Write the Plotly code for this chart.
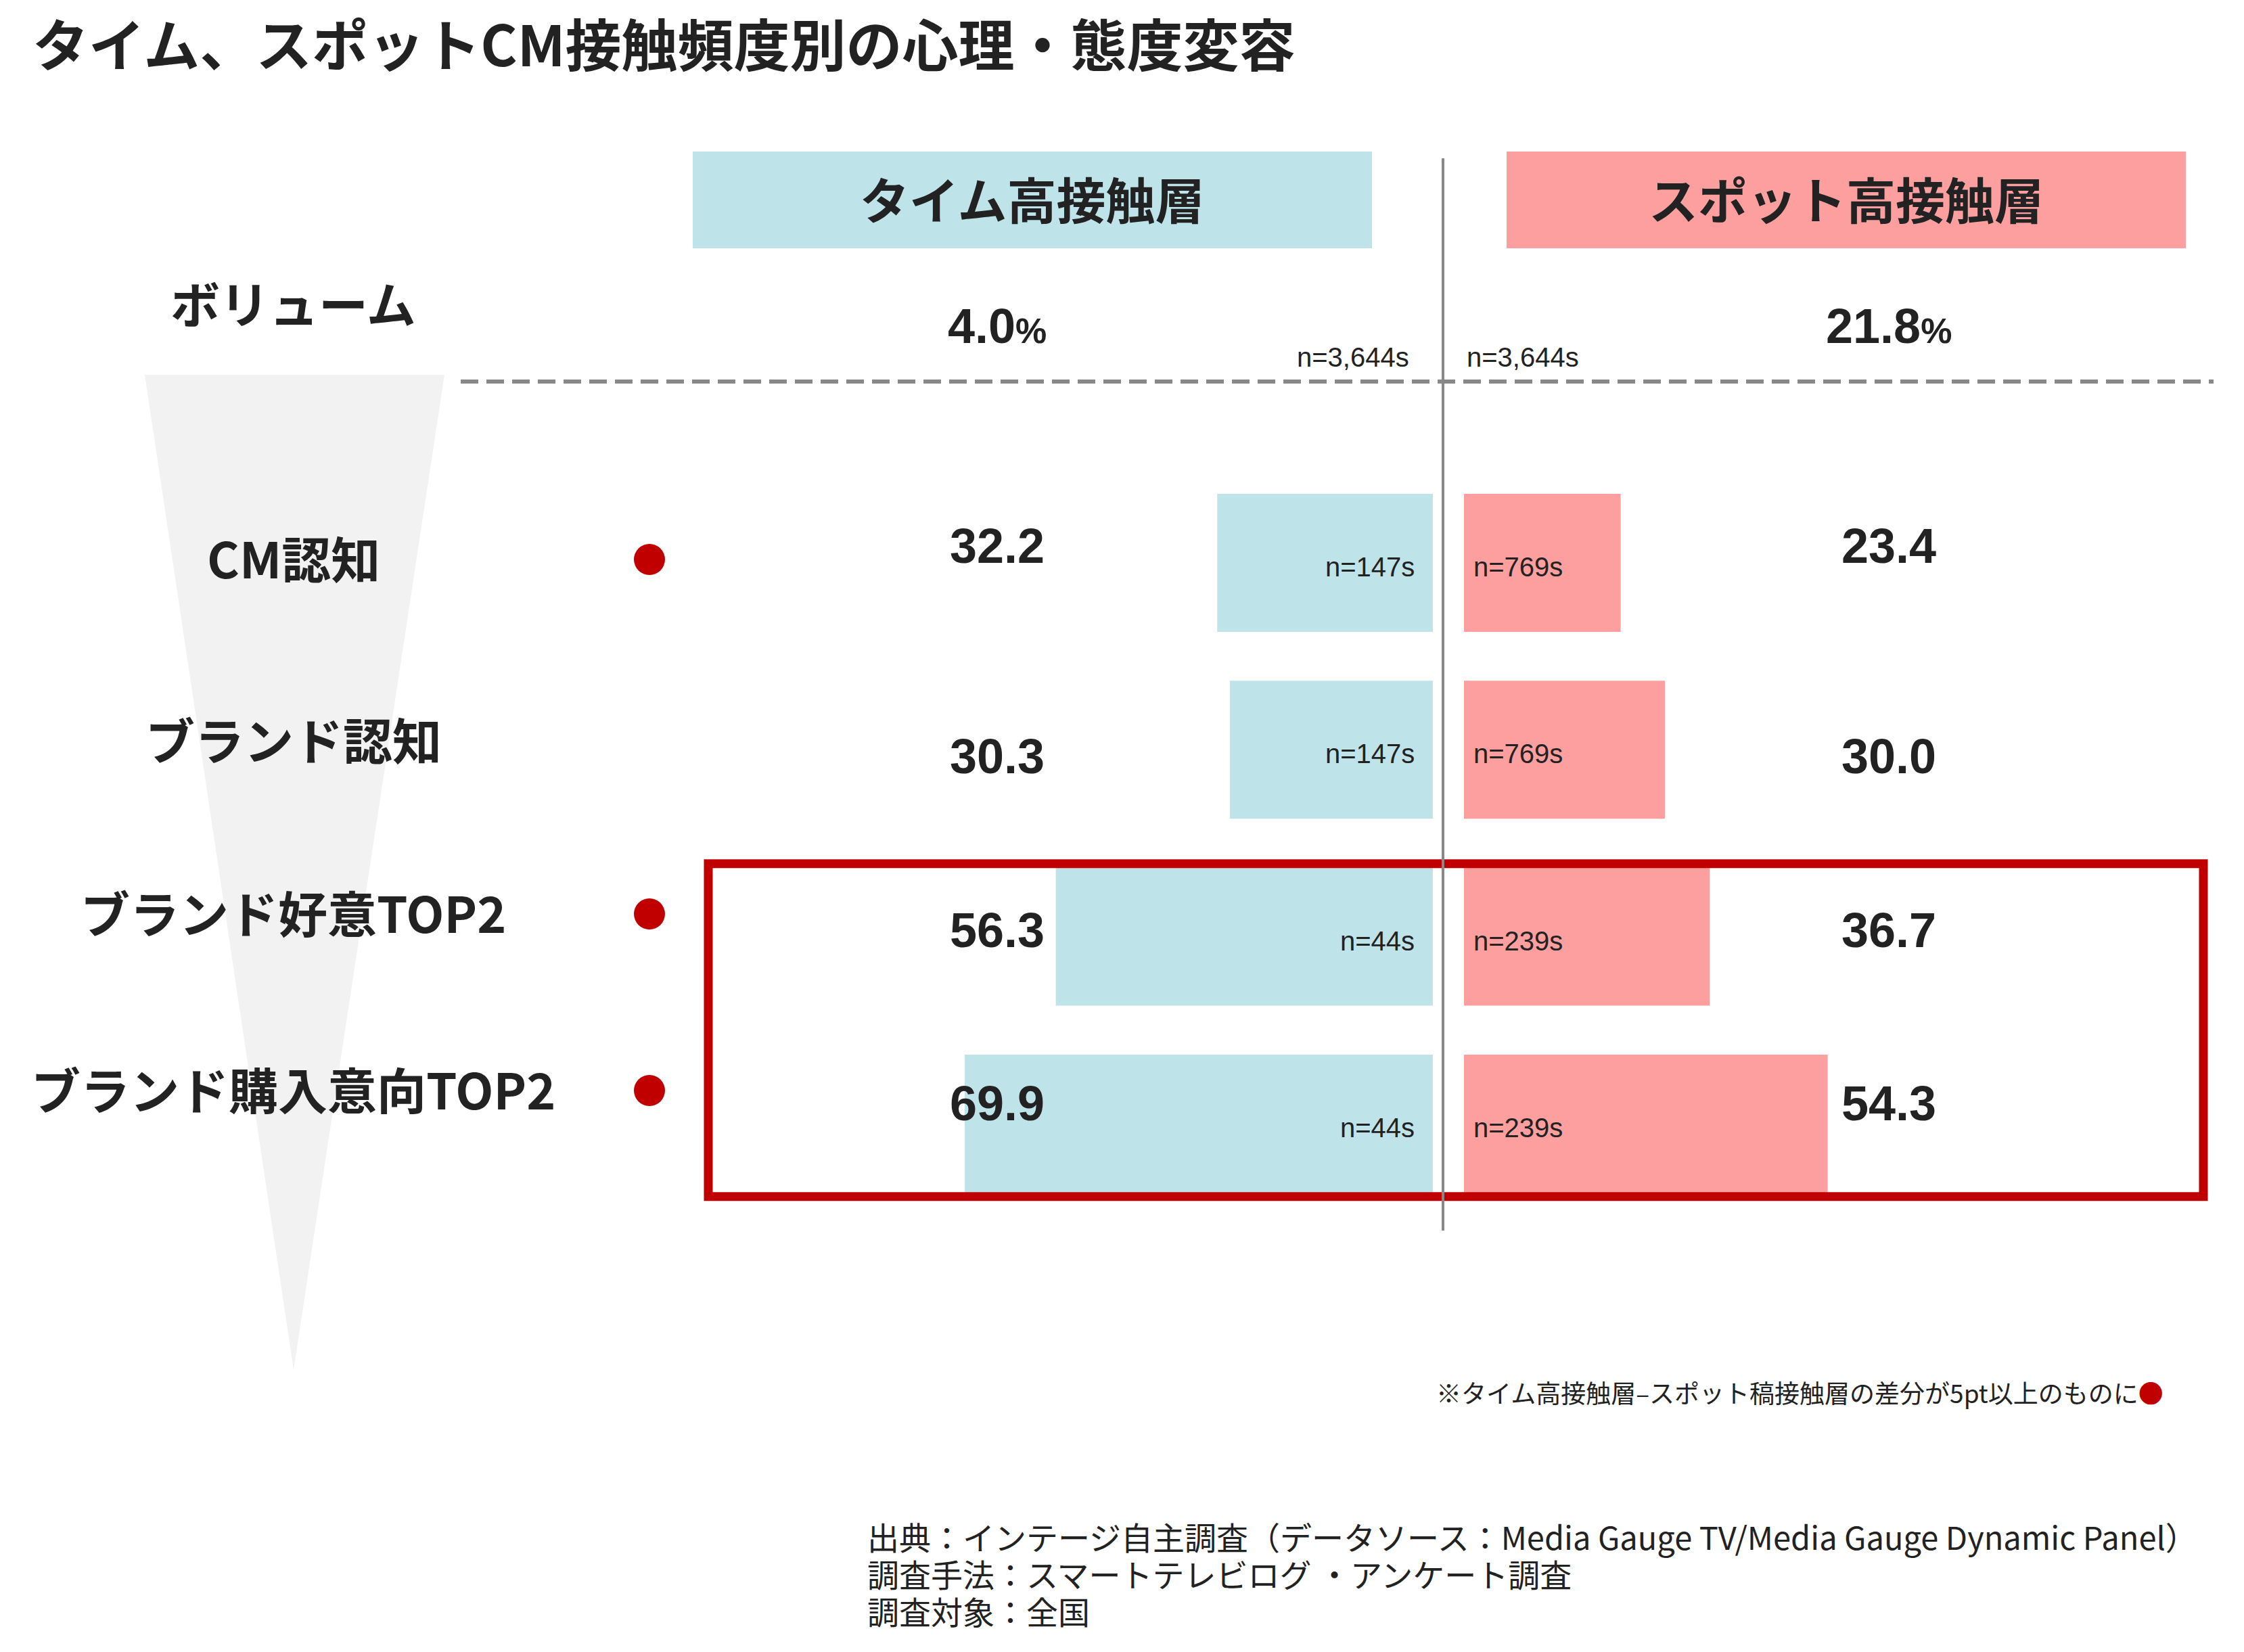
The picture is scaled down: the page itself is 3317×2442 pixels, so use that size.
import plotly.graph_objects as go

# ---------------- data ----------------
categories = ["CM認知", "ブランド認知", "ブランド好意TOP2", "ブランド購入意向TOP2"]
time_values = [32.2, 30.3, 56.3, 69.9]
spot_values = [23.4, 30.0, 36.7, 54.3]
time_n = ["n=147s", "n=147s", "n=44s", "n=44s"]
spot_n = ["n=769s", "n=769s", "n=239s", "n=239s"]
volume_label = "ボリューム"
time_volume = 4.0
spot_volume = 21.8
volume_n = "n=3,644s"
header_time = "タイム高接触層"
header_spot = "スポット高接触層"
title_text = "タイム、スポットCM接触頻度別の心理・態度変容"
note_text = "※タイム高接触層–スポット稿接触層の差分が5pt以上のものに"
footer_lines = [
    "出典：インテージ自主調査（データソース：Media Gauge TV/Media Gauge Dynamic Panel）",
    "調査手法：スマートテレビログ ・アンケート調査",
    "調査対象：全国",
]
DIFF_THRESHOLD = 5.0
highlight_rows = ["ブランド好意TOP2", "ブランド購入意向TOP2"]

# ---------------- layout constants ----------------
W, H = 3317, 2442
PX_PER_UNIT = 9.9
CENTER_X = 2133
ROW0_Y, ROW_STEP = 832, 276.3
BAR_W = 0.738
BLUE = "#bee4ea"
PINK = "#fe9f9f"
RED = "#c00000"
GRAY = "#888888"
TXT = "#222222"
CJK = "Noto Sans CJK JP"
NUM = "Liberation Sans, Arial, Noto Sans CJK JP"

LABEL_X = 434
LABEL_Y = [823, 1091, 1347, 1608]
VALUE_Y = [807, 1118, 1375, 1631]
TIME_VAL_X, SPOT_VAL_X = 1474, 2792
DOT_X, DOT_R = 960, 23


def px(x):
    return x / W


def py(y):
    return 1 - y / H


def yrow(i):
    return ROW0_Y + i * ROW_STEP


fig = go.Figure()

blue_base = -15 / PX_PER_UNIT
pink_base = 31 / PX_PER_UNIT

fig.add_trace(go.Bar(
    y=categories, x=[-v for v in time_values], base=blue_base, orientation="h",
    marker=dict(color=BLUE, line=dict(width=0)), width=BAR_W, hoverinfo="skip",
    showlegend=False,
))
fig.add_trace(go.Bar(
    y=categories, x=spot_values, base=pink_base, orientation="h",
    marker=dict(color=PINK, line=dict(width=0)), width=BAR_W, hoverinfo="skip",
    showlegend=False,
))

shapes = []
ann = []

# funnel
shapes.append(dict(type="path", xref="paper", yref="paper", layer="below",
                   path=f"M {px(214)},{py(554)} L {px(657)},{py(554)} L {px(434)},{py(2025)} Z",
                   fillcolor="#f2f2f2", line=dict(width=0)))
# header boxes
shapes.append(dict(type="rect", xref="paper", yref="paper", layer="below",
                   x0=px(1024), x1=px(2028), y0=py(224), y1=py(367),
                   fillcolor=BLUE, line=dict(width=0)))
shapes.append(dict(type="rect", xref="paper", yref="paper", layer="below",
                   x0=px(2227), x1=px(3231), y0=py(224), y1=py(367),
                   fillcolor=PINK, line=dict(width=0)))
# dashed line
shapes.append(dict(type="line", xref="paper", yref="paper", layer="above",
                   x0=px(681), x1=px(3272), y0=py(564), y1=py(564),
                   line=dict(color=GRAY, width=6, dash="26px,12px")))
# red highlight box around highlighted rows
hi_idx = [categories.index(c) for c in highlight_rows]
top = yrow(min(hi_idx)) - BAR_W * ROW_STEP / 2 - 6
bot = yrow(max(hi_idx)) + BAR_W * ROW_STEP / 2 + 6
shapes.append(dict(type="rect", xref="paper", yref="paper", layer="above",
                   x0=px(1047), x1=px(3257), y0=py(top), y1=py(bot),
                   fillcolor="rgba(0,0,0,0)", line=dict(color=RED, width=13)))
# center line
shapes.append(dict(type="line", xref="paper", yref="paper", layer="above",
                   x0=px(CENTER_X), x1=px(CENTER_X), y0=py(234), y1=py(1819),
                   line=dict(color=GRAY, width=4)))
# red dots where difference >= threshold
for i, (t, s) in enumerate(zip(time_values, spot_values)):
    if t - s >= DIFF_THRESHOLD:
        shapes.append(dict(type="circle", xref="paper", yref="paper", layer="above",
                           x0=px(DOT_X - DOT_R), x1=px(DOT_X + DOT_R),
                           y0=py(LABEL_Y[i] + 4 - DOT_R), y1=py(LABEL_Y[i] + 4 + DOT_R),
                           fillcolor=RED, line=dict(width=0)))

# title
ann.append(dict(text=title_text, x=px(46), y=py(62), xanchor="left", yanchor="middle",
                font=dict(family=CJK, size=83, color=TXT, weight="bold")))
# headers
ann.append(dict(text=header_time, x=px(1526), y=py(292), xanchor="center", yanchor="middle",
                font=dict(family=CJK, size=73, color=TXT, weight="bold")))
ann.append(dict(text=header_spot, x=px(2729), y=py(292), xanchor="center", yanchor="middle",
                font=dict(family=CJK, size=73, color=TXT, weight="bold")))
# volume row
ann.append(dict(text=volume_label, x=px(LABEL_X), y=py(446), xanchor="center", yanchor="middle",
                font=dict(family=CJK, size=73, color=TXT, weight="bold")))
ann.append(dict(text=f"{time_volume:.1f}<span style='font-size:52px'>%</span>",
                x=px(TIME_VAL_X), y=py(482), xanchor="center", yanchor="middle",
                font=dict(family=NUM, size=72, color=TXT, weight="bold")))
ann.append(dict(text=f"{spot_volume:.1f}<span style='font-size:52px'>%</span>",
                x=px(SPOT_VAL_X), y=py(482), xanchor="center", yanchor="middle",
                font=dict(family=NUM, size=72, color=TXT, weight="bold")))
ann.append(dict(text=volume_n, x=px(2085), y=py(528), xanchor="right", yanchor="middle",
                font=dict(family=NUM, size=40, color=TXT)))
ann.append(dict(text=volume_n, x=px(2166), y=py(528), xanchor="left", yanchor="middle",
                font=dict(family=NUM, size=40, color=TXT)))

# rows
for i, cat in enumerate(categories):
    ann.append(dict(text=cat, x=px(LABEL_X), y=py(LABEL_Y[i]), xanchor="center", yanchor="middle",
                    font=dict(family=CJK, size=73, color=TXT, weight="bold")))
    ann.append(dict(text=f"{time_values[i]:.1f}", x=px(TIME_VAL_X), y=py(VALUE_Y[i]),
                    xanchor="center", yanchor="middle",
                    font=dict(family=NUM, size=72, color=TXT, weight="bold")))
    ann.append(dict(text=f"{spot_values[i]:.1f}", x=px(SPOT_VAL_X), y=py(VALUE_Y[i]),
                    xanchor="center", yanchor="middle",
                    font=dict(family=NUM, size=72, color=TXT, weight="bold")))
    ann.append(dict(text=time_n[i], xref="x", yref="y", x=-40 / PX_PER_UNIT, y=cat,
                    yshift=-6, xanchor="right", yanchor="middle",
                    font=dict(family=NUM, size=40, color=TXT)))
    ann.append(dict(text=spot_n[i], xref="x", yref="y", x=43 / PX_PER_UNIT, y=cat,
                    yshift=-6, xanchor="left", yanchor="middle",
                    font=dict(family=NUM, size=40, color=TXT)))

# note
ann.append(dict(text=note_text + f"<span style='color:{RED}'>●</span>", x=px(3200), y=py(2058),
                xanchor="right", yanchor="middle",
                font=dict(family=CJK, size=37, color=TXT)))
# footer
for k, line in enumerate(footer_lines):
    ann.append(dict(text=line, x=px(1280), y=py(2270 + k * 55), xanchor="left", yanchor="middle",
                    font=dict(family=CJK, size=47, color=TXT)))

for a in ann:
    a.setdefault("xref", "paper")
    a.setdefault("yref", "paper")
    a["showarrow"] = False

fig.update_layout(
    width=W, height=H,
    margin=dict(l=0, r=0, t=0, b=0),
    paper_bgcolor="white", plot_bgcolor="white",
    barmode="overlay",
    shapes=shapes, annotations=ann,
    xaxis=dict(range=[-CENTER_X / PX_PER_UNIT, (W - CENTER_X) / PX_PER_UNIT], visible=False,
               fixedrange=True),
    yaxis=dict(range=[(H - ROW0_Y) / ROW_STEP, -ROW0_Y / ROW_STEP], visible=False,
               fixedrange=True, categoryorder="array", categoryarray=categories),
    showlegend=False,
)

fig.write_html("out.html")
